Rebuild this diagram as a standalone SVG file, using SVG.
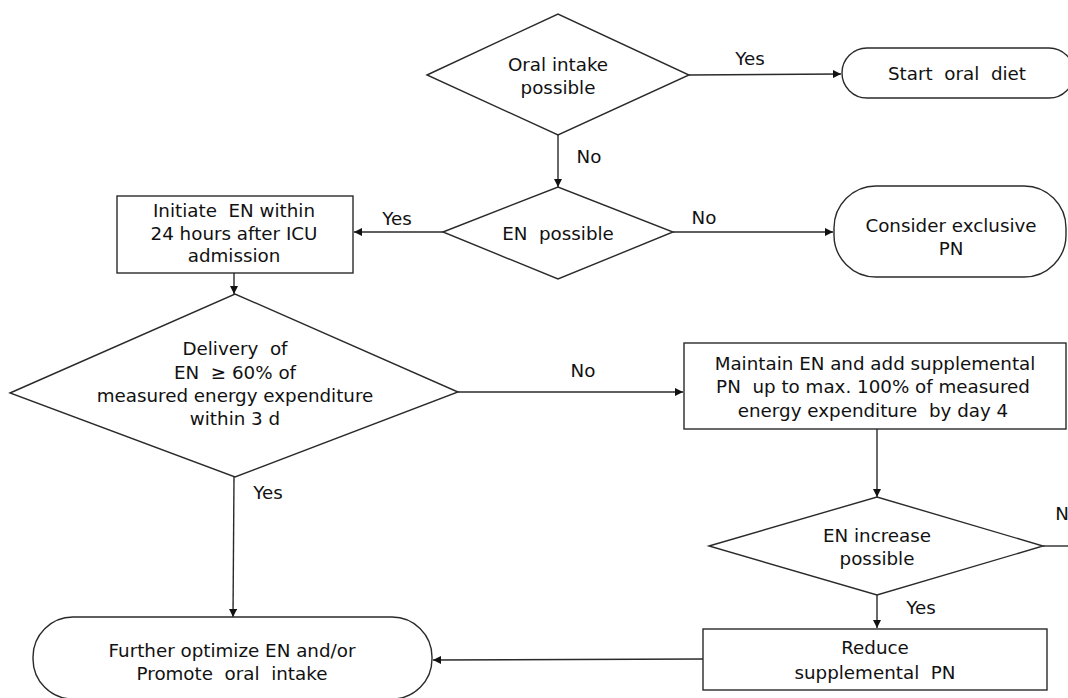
<svg xmlns="http://www.w3.org/2000/svg" width="1068" height="698" viewBox="0 0 1068 698">
<style>
.s{fill:#fff;stroke:#2a2a2a;stroke-width:1.4}
.c{fill:none;stroke:#2a2a2a;stroke-width:1.4}
text{font-family:"DejaVu Sans","Liberation Sans",sans-serif;font-size:18.3px;fill:#111;text-anchor:middle;dominant-baseline:central}
</style>
<defs>
<marker id="ah" viewBox="0 0 10 10" refX="10" refY="5" markerWidth="8" markerHeight="8" markerUnits="userSpaceOnUse" orient="auto">
<path d="M0,0 L10,5 L0,10 z" fill="#111"/>
</marker>
</defs>
<rect width="1068" height="698" fill="#fff"/>
<g id="connectors">
<line class="c" x1="689" y1="75" x2="841" y2="74" marker-end="url(#ah)"/>
<line class="c" x1="558" y1="135" x2="558" y2="187" marker-end="url(#ah)"/>
<line class="c" x1="443" y1="232" x2="354" y2="232" marker-end="url(#ah)"/>
<line class="c" x1="673" y1="232" x2="833" y2="232" marker-end="url(#ah)"/>
<line class="c" x1="234" y1="273" x2="234" y2="294" marker-end="url(#ah)"/>
<line class="c" x1="458" y1="392" x2="683" y2="392" marker-end="url(#ah)"/>
<line class="c" x1="877" y1="429" x2="877" y2="497" marker-end="url(#ah)"/>
<line class="c" x1="1043" y1="546" x2="1068" y2="546"/>
<line class="c" x1="877" y1="595" x2="877" y2="628" marker-end="url(#ah)"/>
<line class="c" x1="234" y1="477" x2="233" y2="617" marker-end="url(#ah)"/>
<line class="c" x1="703" y1="659" x2="433" y2="660" marker-end="url(#ah)"/>
<text x="750" y="58">Yes</text>
<text x="589" y="156">No</text>
<text x="397" y="218">Yes</text>
<text x="704" y="217">No</text>
<text x="583" y="370">No</text>
<text x="268" y="492">Yes</text>
<text x="1062" y="513">N</text>
<text x="921" y="607">Yes</text>
</g>
<g id="oral">
<polygon class="s" points="427,75 558,14 689,75 558,135"/>
<text x="558" y="64">Oral intake</text>
<text x="558" y="87">possible</text>
</g>
<g id="startoral">
<rect class="s" x="842" y="48" width="232" height="50" rx="25"/>
<text x="957" y="73" xml:space="preserve">Start  oral  diet</text>
</g>
<g id="enpossible">
<polygon class="s" points="443,232 558,187 673,232 558,279"/>
<text x="558" y="233" xml:space="preserve">EN  possible</text>
</g>
<g id="exclusivepn">
<rect class="s" x="834" y="186" width="232" height="91" rx="42"/>
<text x="951" y="225">Consider exclusive</text>
<text x="951" y="248">PN</text>
</g>
<g id="initiate">
<rect class="s" x="117" y="196" width="236" height="77"/>
<text x="234" y="210" xml:space="preserve">Initiate  EN within</text>
<text x="234" y="233">24 hours after ICU</text>
<text x="234" y="255">admission</text>
</g>
<g id="delivery">
<polygon class="s" points="10,393 235,294 458,392 235,477"/>
<text x="235" y="348" xml:space="preserve">Delivery  of</text>
<text x="235" y="372" xml:space="preserve">EN  ≥ 60% of</text>
<text x="235" y="395">measured energy expenditure</text>
<text x="235" y="418">within 3 d</text>
</g>
<g id="maintain">
<rect class="s" x="684" y="343" width="382" height="86"/>
<text x="875" y="363">Maintain EN and add supplemental</text>
<text x="873" y="386" xml:space="preserve">PN  up to max. 100% of measured</text>
<text x="873" y="410" xml:space="preserve">energy expenditure  by day 4</text>
</g>
<g id="increase">
<polygon class="s" points="709,546 877,497 1043,546 877,595"/>
<text x="877" y="535">EN increase</text>
<text x="877" y="558">possible</text>
</g>
<g id="reduce">
<rect class="s" x="703" y="629" width="344" height="61"/>
<text x="875" y="647">Reduce</text>
<text x="875" y="672" xml:space="preserve">supplemental  PN</text>
</g>
<g id="further">
<rect class="s" x="33" y="617" width="399" height="82" rx="40"/>
<text x="232" y="650">Further optimize EN and/or</text>
<text x="232" y="673" xml:space="preserve">Promote  oral  intake</text>
</g>
</svg>
